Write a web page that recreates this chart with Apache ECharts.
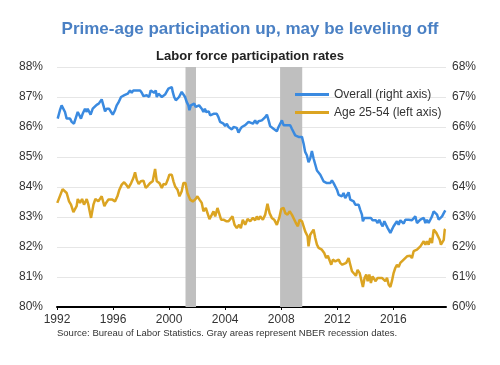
<!DOCTYPE html>
<html>
<head>
<meta charset="utf-8">
<script src="https://cdn.jsdelivr.net/npm/echarts@6/dist/echarts.min.js"></script>
<style>html,body{margin:0;padding:0;background:#fff}#c{width:500px;height:365px}</style>
</head>
<body>
<div id="c"></div>
<script>
// Data: [decimal year, rate %]
const overall = [
[1992.05,66.28],[1992.21,66.56],[1992.33,66.72],[1992.45,66.67],[1992.57,66.5],[1992.69,66.28],[1992.81,66.22],[1992.93,66.28],
[1993.05,66.17],[1993.21,66.11],[1993.36,66.33],[1993.48,66.5],[1993.6,66.39],[1993.71,66.28],[1993.83,66.44],[1994.0,66.61],
[1994.12,66.5],[1994.19,66.61],[1994.31,66.56],[1994.4,66.41],[1994.55,66.61],[1994.67,66.67],[1994.83,66.74],[1994.98,66.78],
[1995.07,66.83],[1995.19,66.92],[1995.31,66.72],[1995.43,66.52],[1995.55,66.61],[1995.71,66.61],[1995.86,66.5],[1995.98,66.41],
[1996.14,66.56],[1996.26,66.72],[1996.38,66.81],[1996.5,66.83],[1996.57,67.0],[1996.69,66.97],[1996.81,67.06],[1996.93,67.0],
[1997.05,67.11],[1997.21,67.22],[1997.33,67.14],[1997.45,67.22],[1997.57,67.17],[1997.69,67.22],[1997.81,67.19],[1997.93,67.22],
[1998.05,67.14],[1998.17,67.03],[1998.29,67.0],[1998.4,67.06],[1998.57,67.0],[1998.69,67.22],[1998.83,67.22],[1998.93,67.14],
[1999.05,67.22],[1999.12,67.0],[1999.24,67.11],[1999.36,67.08],[1999.48,67.0],[1999.6,67.06],[1999.71,67.08],[1999.83,67.14],
[1999.95,67.28],[2000.07,67.33],[2000.19,67.33],[2000.26,67.17],[2000.36,67.0],[2000.48,66.89],[2000.6,66.83],[2000.71,67.0],
[2000.83,67.06],[2000.9,67.17],[2001.02,67.22],[2001.14,67.0],[2001.26,66.83],[2001.38,66.72],[2001.45,66.56],[2001.55,66.72],
[2001.67,66.67],[2001.79,66.78],[2001.9,66.67],[2002.02,66.61],[2002.14,66.72],[2002.26,66.67],[2002.33,66.61],[2002.45,66.5],
[2002.55,66.61],[2002.64,66.5],[2002.74,66.44],[2002.83,66.52],[2002.93,66.39],[2003.05,66.33],[2003.17,66.44],[2003.29,66.39],
[2003.4,66.44],[2003.52,66.33],[2003.64,66.17],[2003.76,66.11],[2003.88,66.11],[2004.0,66.03],[2004.12,66.11],[2004.24,66.0],
[2004.36,66.06],[2004.48,65.92],[2004.6,66.0],[2004.71,66.06],[2004.83,65.97],[2004.95,65.81],[2005.07,65.92],[2005.19,66.0],
[2005.31,65.94],[2005.43,66.06],[2005.55,66.11],[2005.67,66.17],[2005.79,66.11],[2005.98,66.11],[2006.14,66.22],[2006.26,66.11],
[2006.38,66.19],[2006.5,66.17],[2006.62,66.22],[2006.74,66.17],[2006.86,66.33],[2006.98,66.41],[2007.1,66.22],[2007.21,66.03],
[2007.33,66.06],[2007.45,65.94],[2007.57,66.0],[2007.69,65.86],[2007.81,66.0],[2007.93,66.0],[2008.05,66.22],[2008.17,66.06],
[2008.29,66.11],[2008.4,66.06],[2008.52,66.11],[2008.64,66.06],[2008.76,65.94],[2008.88,65.89],[2009.0,65.72],[2009.12,65.78],
[2009.24,65.67],[2009.36,65.72],[2009.48,65.67],[2009.6,65.44],[2009.71,65.17],[2009.83,65.06],[2009.95,64.83],[2010.07,64.95],
[2010.19,65.2],[2010.31,64.95],[2010.43,64.75],[2010.55,64.55],[2010.67,64.58],[2010.79,64.41],[2010.9,64.36],[2011.02,64.19],
[2011.14,64.24],[2011.26,64.13],[2011.38,64.19],[2011.5,64.13],[2011.62,64.22],[2011.74,64.13],[2011.86,64.08],[2011.98,63.91],
[2012.1,63.74],[2012.21,63.8],[2012.33,63.69],[2012.45,63.8],[2012.57,63.63],[2012.69,63.69],[2012.81,63.82],[2012.93,63.58],
[2013.05,63.63],[2013.17,63.52],[2013.29,63.41],[2013.4,63.38],[2013.52,63.41],[2013.64,63.24],[2013.76,63.08],[2013.83,62.86],
[2013.93,62.97],[2014.05,62.91],[2014.17,62.97],[2014.29,62.91],[2014.4,62.97],[2014.52,62.89],[2014.64,62.93],[2014.76,62.89],
[2014.88,62.8],[2015.0,62.91],[2015.12,62.78],[2015.24,62.69],[2015.36,62.86],[2015.48,62.74],[2015.6,62.63],[2015.71,62.58],
[2015.79,62.47],[2015.9,62.58],[2016.02,62.69],[2016.14,62.74],[2016.26,62.86],[2016.38,62.74],[2016.5,62.89],[2016.62,62.86],
[2016.74,62.78],[2016.86,62.91],[2016.98,62.86],[2017.1,62.91],[2017.21,62.97],[2017.33,62.89],[2017.45,62.91],[2017.57,63.02],
[2017.69,62.8],[2017.81,62.74],[2017.93,62.91],[2018.05,62.86],[2018.17,62.97],[2018.29,62.8],[2018.4,62.91],[2018.52,62.8],
[2018.64,62.91],[2018.76,63.02],[2018.88,63.19],[2019.0,63.24],[2019.12,63.08],[2019.24,62.91],[2019.36,62.86],[2019.48,63.02],
[2019.6,63.13],[2019.71,63.22]
];
const primeAge = [
[1992.02,83.47],[1992.4,83.93],[1992.69,83.8],[1992.86,83.52],[1993.0,83.41],[1993.17,83.16],[1993.4,83.36],[1993.48,83.6],
[1993.64,83.47],[1993.79,83.6],[1993.93,83.41],[1994.12,83.6],[1994.24,83.41],[1994.31,83.24],[1994.43,82.97],[1994.6,83.41],
[1994.74,83.6],[1994.95,83.52],[1995.19,83.69],[1995.38,83.36],[1995.5,83.47],[1995.67,83.58],[1995.79,83.52],[1995.95,83.58],
[1996.14,83.52],[1996.31,83.69],[1996.45,83.91],[1996.62,84.08],[1996.79,84.16],[1996.93,84.08],[1997.1,83.97],[1997.29,84.13],
[1997.45,84.3],[1997.57,84.49],[1997.69,84.24],[1997.83,84.1],[1997.98,84.19],[1998.17,84.21],[1998.33,83.97],[1998.48,84.04],
[1998.64,84.13],[1998.83,84.19],[1999.0,84.6],[1999.12,84.19],[1999.31,84.13],[1999.48,83.97],[1999.6,84.1],[1999.76,84.08],
[1999.9,84.24],[2000.02,84.41],[2000.19,84.41],[2000.31,84.19],[2000.43,84.02],[2000.6,83.91],[2000.74,83.69],[2000.9,83.86],
[2001.02,84.13],[2001.17,84.13],[2001.31,83.8],[2001.5,83.58],[2001.69,83.52],[2001.86,83.58],[2002.02,83.69],[2002.17,83.58],
[2002.33,83.47],[2002.45,83.19],[2002.62,83.3],[2002.74,83.24],[2002.88,82.93],[2003.05,83.08],[2003.17,83.19],[2003.29,83.02],
[2003.45,83.3],[2003.6,83.08],[2003.71,82.91],[2003.88,82.91],[2004.07,82.86],[2004.24,82.86],[2004.36,82.8],[2004.52,83.02],
[2004.67,82.74],[2004.83,82.63],[2005.0,82.74],[2005.12,82.63],[2005.26,82.91],[2005.43,82.74],[2005.6,82.93],[2005.79,82.86],
[2005.98,82.97],[2006.14,82.89],[2006.26,83.02],[2006.38,82.91],[2006.5,83.02],[2006.69,82.91],[2006.86,83.08],[2007.02,83.44],
[2007.17,83.13],[2007.33,82.97],[2007.5,82.91],[2007.69,82.74],[2007.86,82.97],[2008.0,83.27],[2008.17,83.3],[2008.29,83.13],
[2008.45,83.08],[2008.6,83.19],[2008.76,83.08],[2008.88,83.02],[2009.05,82.8],[2009.19,82.69],[2009.31,82.91],[2009.48,82.86],
[2009.6,82.69],[2009.71,82.52],[2009.88,82.36],[2009.95,82.02],[2010.07,82.41],[2010.19,82.47],[2010.31,82.58],[2010.43,82.3],
[2010.55,82.08],[2010.67,81.97],[2010.79,82.02],[2010.9,81.91],[2011.07,81.8],[2011.21,81.63],[2011.33,81.71],[2011.45,81.69],
[2011.57,81.41],[2011.69,81.58],[2011.86,81.52],[2011.98,81.47],[2012.1,81.58],[2012.21,81.47],[2012.36,81.41],[2012.5,81.47],
[2012.64,81.47],[2012.81,81.63],[2012.93,81.41],[2013.05,81.19],[2013.17,81.13],[2013.33,81.04],[2013.45,81.24],[2013.6,81.13],
[2013.71,81.08],[2013.83,80.67],[2013.95,80.97],[2014.07,81.08],[2014.17,80.86],[2014.29,81.08],[2014.4,80.8],[2014.52,81.02],
[2014.64,81.08],[2014.74,80.86],[2014.88,80.97],[2015.02,80.91],[2015.19,80.97],[2015.31,81.02],[2015.43,80.86],[2015.55,80.97],
[2015.67,80.74],[2015.79,80.67],[2015.9,80.86],[2016.02,81.13],[2016.14,81.3],[2016.26,81.41],[2016.38,81.33],[2016.5,81.47],
[2016.62,81.41],[2016.74,81.58],[2016.86,81.52],[2016.98,81.69],[2017.1,81.63],[2017.21,81.71],[2017.33,81.63],[2017.45,81.86],
[2017.57,81.8],[2017.69,81.91],[2017.81,81.86],[2017.93,82.02],[2018.05,81.97],[2018.17,82.19],[2018.29,82.08],[2018.4,82.19],
[2018.52,82.08],[2018.64,82.3],[2018.76,82.13],[2018.88,82.58],[2019.0,82.63],[2019.07,82.47],[2019.19,82.52],[2019.31,82.24],
[2019.4,82.08],[2019.5,82.02],[2019.6,82.24],[2019.67,82.58],[2019.71,82.6]
];
// NBER recessions (start, end) in decimal years
const recessions = [[2001.17, 2001.92], [2007.92, 2009.5]];
const seriesNames = ['Overall (right axis)', 'Age 25-54 (left axis)'];
const titleText = 'Prime-age participation up, may be leveling off';
const subtitleText = 'Labor force participation rates';
const sourceText = 'Source: Bureau of Labor Statistics. Gray areas represent NBER recession dates.';

const FONT = '"Liberation Sans", Arial, Helvetica, sans-serif';
const chart = echarts.init(document.getElementById('c'), null, {renderer: 'canvas'});
chart.setOption({
  animation: false,
  backgroundColor: '#fff',
  textStyle: {fontFamily: FONT},
  graphic: [
    {type: 'text', left: 'center', top: 21, style: {text: titleText, font: 'bold 17px ' + FONT, fill: '#4a80c4'}},
    {type: 'text', left: 'center', top: 50, style: {text: subtitleText, font: 'bold 13px ' + FONT, fill: '#222'}},
    {type: 'text', left: 57, top: 328, style: {text: sourceText, font: '9.5px ' + FONT, fill: '#333'}}
  ],
  legend: {
    data: seriesNames,
    orient: 'vertical',
    left: 290, top: 82,
    itemWidth: 34, itemHeight: 3, itemGap: 3,
    icon: 'rect',
    textStyle: {fontSize: 12, color: '#333', lineHeight: 15, fontFamily: FONT}
  },
  grid: {left: 57, right: 54, top: 67, bottom: 58, containLabel: false},
  xAxis: {
    type: 'value', min: 1992, max: 2019.76, interval: 4,
    axisLine: {show: true, lineStyle: {color: '#000', width: 2}},
    axisTick: {show: true, length: 3, lineStyle: {color: '#000'}},
    axisLabel: {fontSize: 12, color: '#333', margin: 7, showMaxLabel: false, formatter: v => String(v)},
    splitLine: {show: false}
  },
  yAxis: [
    {type: 'value', min: 80, max: 88, interval: 1, position: 'left',
      axisLine: {show: false}, axisTick: {show: false},
      axisLabel: {fontSize: 12, color: '#333', margin: 14, formatter: '{value}%'},
      splitLine: {show: true, lineStyle: {color: '#e6e6e6', width: 1}}},
    {type: 'value', min: 60, max: 68, interval: 1, position: 'right',
      axisLine: {show: false}, axisTick: {show: false},
      axisLabel: {fontSize: 12, color: '#333', margin: 6, formatter: '{value}%'},
      splitLine: {show: false}}
  ],
  series: [
    {name: 'recessions', type: 'line', data: [], z: 1, silent: true,
      markArea: {silent: true, itemStyle: {color: '#bfbfbf', opacity: 1},
        data: recessions.map(r => [{xAxis: r[0]}, {xAxis: r[1]}])}},
    {name: seriesNames[0], type: 'line', yAxisIndex: 1, data: overall, z: 3,
      showSymbol: false, symbol: 'none', lineStyle: {color: '#3a8ae0', width: 2.5}, itemStyle: {color: '#3a8ae0'}},
    {name: seriesNames[1], type: 'line', yAxisIndex: 0, data: primeAge, z: 3,
      showSymbol: false, symbol: 'none', lineStyle: {color: '#dba422', width: 2.5}, itemStyle: {color: '#dba422'}}
  ]
});
</script>
</body>
</html>
